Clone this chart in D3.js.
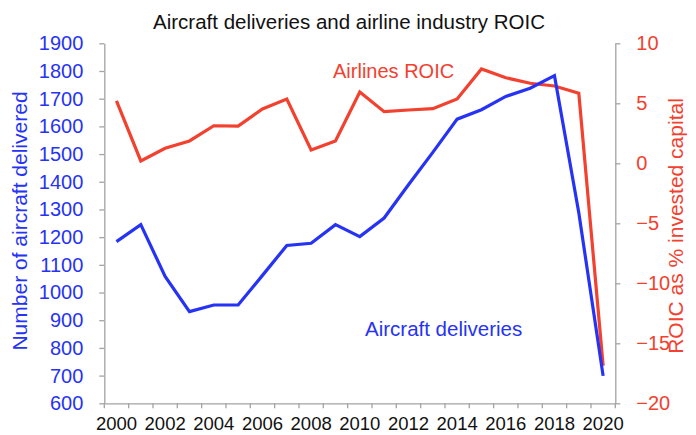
<!DOCTYPE html>
<html>
<head>
<meta charset="utf-8">
<script src="https://cdn.jsdelivr.net/npm/d3@7"></script>
<style>
  body { margin: 0; background: #fff; }
  svg { display: block; font-family: "Liberation Sans", Arial, sans-serif; }
</style>
</head>
<body>
<div id="chart"></div>
<script>
// values
var years = [2000, 2001, 2002, 2003, 2004, 2005, 2006, 2007, 2008, 2009, 2010,
             2011, 2012, 2013, 2014, 2015, 2016, 2017, 2018, 2019, 2020];
var deliveries = [1184, 1245, 1058, 931, 955, 955, 1062, 1170, 1178, 1245, 1202,
                  1269, 1389, 1506, 1626, 1660, 1708, 1738, 1783, 1288, 699];
var roic = [5.2, 0.2, 1.25, 1.86, 3.13, 3.1, 4.53, 5.36, 1.11, 1.86, 5.94,
            4.3, 4.44, 4.55, 5.36, 7.86, 7.13, 6.67, 6.44, 5.83, -16.87];
var leftTicks = [600, 700, 800, 900, 1000, 1100, 1200, 1300, 1400, 1500, 1600, 1700, 1800, 1900];
var rightTicks = [-20, -15, -10, -5, 0, 5, 10];
var yearLabels = [2000, 2002, 2004, 2006, 2008, 2010, 2012, 2014, 2016, 2018, 2020];

var W = 696, H = 435;
var padLeft = 104.3, padRight = 615.3, padTop = 43.3, padBottom = 403.3;
var blue = "#2633f4", red = "#f2412f", grey = "#a3a3a3";

var svg = d3.select("#chart").append("svg")
    .attr("width", W)
    .attr("height", H);

var x = d3.scaleBand().domain(years).range([padLeft, padRight]).padding(0);
var yL = d3.scaleLinear().domain([600, 1900]).range([padBottom, padTop]);
var yR = d3.scaleLinear().domain([-20, 10]).range([padBottom, padTop]);

// x axis: labels centred in bands, ticks on band edges
var xAxis = svg.append("g")
    .attr("transform", `translate(0, ${padBottom})`)
    .call(d3.axisBottom(x).tickValues(yearLabels).tickSize(0).tickPadding(14).tickSizeOuter(0));
xAxis.select(".domain").attr("stroke", grey).attr("stroke-width", 1.3);
xAxis.selectAll("text").attr("font-size", 18.5).attr("fill", "#111").attr("font-family", null);

var edges = years.map(function(d) { return x(d); }).concat([x(2020) + x.bandwidth()]);
xAxis.selectAll(".edge")
    .data(edges)
    .join("line")
    .attr("class", "edge")
    .attr("x1", function(d) { return d; })
    .attr("x2", function(d) { return d; })
    .attr("y1", 0)
    .attr("y2", 5)
    .attr("stroke", grey)
    .attr("stroke-width", 1.3);

var lAxis = svg.append("g")
    .attr("transform", `translate(${padLeft}, 0)`)
    .call(d3.axisLeft(yL).tickValues(leftTicks).tickFormat(d3.format("d")).tickSize(5).tickPadding(16).tickSizeOuter(0));
lAxis.selectAll(".domain, line").attr("stroke", grey).attr("stroke-width", 1.3);
lAxis.selectAll("text").attr("font-size", 20).attr("fill", blue).attr("font-family", null);

var rAxis = svg.append("g")
    .attr("transform", `translate(${padRight}, 0)`)
    .call(d3.axisRight(yR).tickValues(rightTicks).tickSize(5).tickPadding(16).tickSizeOuter(0));
rAxis.selectAll(".domain, line").attr("stroke", grey).attr("stroke-width", 1.3);
rAxis.selectAll("text").attr("font-size", 20).attr("fill", red).attr("font-family", null);

var cx = function(d, i) { return x(years[i]) + x.bandwidth() / 2; };

svg.append("path")
    .datum(roic)
    .attr("fill", "none")
    .attr("stroke", red)
    .attr("stroke-width", 3.2)
    .attr("stroke-linejoin", "miter")
    .attr("d", d3.line().x(cx).y(function(d) { return yR(d); }));

svg.append("path")
    .datum(deliveries)
    .attr("fill", "none")
    .attr("stroke", blue)
    .attr("stroke-width", 3.2)
    .attr("stroke-linejoin", "miter")
    .attr("d", d3.line().x(cx).y(function(d) { return yL(d); }));

// titles and labels
svg.append("text")
    .attr("x", 349)
    .attr("y", 29)
    .attr("text-anchor", "middle")
    .attr("font-size", 20.5)
    .attr("fill", "#111")
    .text("Aircraft deliveries and airline industry ROIC");

svg.append("text")
    .attr("transform", "translate(27, 221) rotate(-90)")
    .attr("text-anchor", "middle")
    .attr("font-size", 21)
    .attr("fill", blue)
    .text("Number of aircraft delivered");

svg.append("text")
    .attr("transform", "translate(683, 226) rotate(-90)")
    .attr("text-anchor", "middle")
    .attr("font-size", 21)
    .attr("fill", red)
    .text("ROIC as % invested capital");

svg.append("text")
    .attr("x", 333)
    .attr("y", 78)
    .attr("font-size", 20)
    .attr("fill", red)
    .text("Airlines ROIC");

svg.append("text")
    .attr("x", 365)
    .attr("y", 336)
    .attr("font-size", 20.5)
    .attr("fill", blue)
    .text("Aircraft deliveries");
</script>
</body>
</html>
